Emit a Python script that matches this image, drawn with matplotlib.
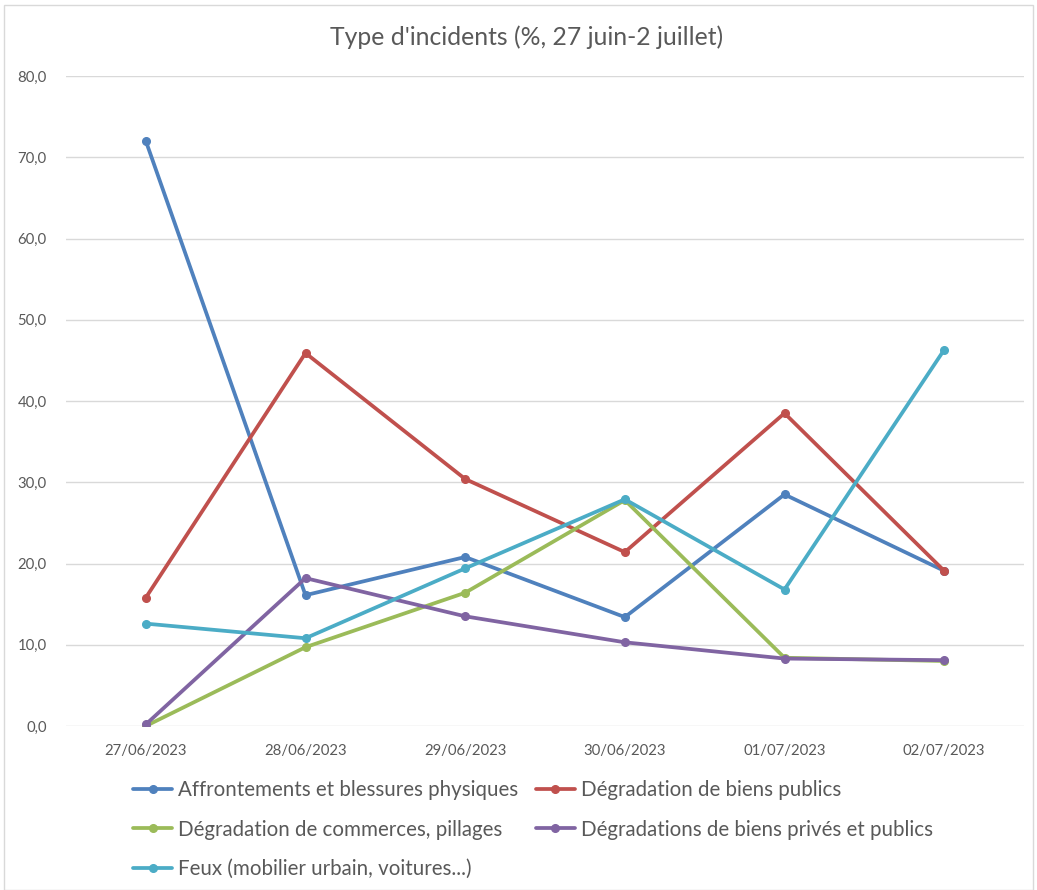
import matplotlib
matplotlib.use("Agg")
import matplotlib.pyplot as plt
from matplotlib.patches import Rectangle
from matplotlib.ticker import FuncFormatter, MultipleLocator

plt.rcParams['font.family'] = ['Lato', 'DejaVu Sans']

dates = ["27/06/2023", "28/06/2023", "29/06/2023", "30/06/2023", "01/07/2023", "02/07/2023"]

affrontements = [72.0, 16.1, 20.8, 13.4, 28.5, 19.1]
biens_publics = [15.8, 45.9, 30.4, 21.4, 38.5, 19.1]
commerces = [0.0, 9.7, 16.4, 27.8, 8.4, 8.0]
biens_prives_publics = [0.2, 18.2, 13.5, 10.3, 8.3, 8.1]
feux = [12.6, 10.8, 19.4, 27.9, 16.8, 46.3]

series = [
    ("Affrontements et blessures physiques", affrontements, "#4F81BD"),
    ("Dégradation de biens publics", biens_publics, "#C0504D"),
    ("Dégradation de commerces, pillages", commerces, "#9BBB59"),
    ("Dégradations de biens privés et publics", biens_prives_publics, "#8064A2"),
    ("Feux (mobilier urbain, voitures...)", feux, "#4BACC6"),
]

W, H = 1037, 890
fig = plt.figure(figsize=(W / 100, H / 100), dpi=100)
ax = fig.add_axes([66 / W, 1 - 726 / H, (1024 - 66) / W, (726 - 76) / H])

x = list(range(len(dates)))
handles = []
for label, vals, color in series:
    ln, = ax.plot(x, vals, color=color, lw=2.7, marker="o", markersize=5.5,
                  solid_capstyle="round", solid_joinstyle="round", label=label, zorder=3)
    handles.append(ln)

ax.set_xlim(-0.5, len(dates) - 0.5)
ax.set_ylim(0, 80)
ax.yaxis.set_major_locator(MultipleLocator(10))
ax.yaxis.set_major_formatter(FuncFormatter(lambda v, p: f"{v:.1f}".replace(".", ",")))
ax.set_xticks(x)
ax.set_xticklabels(dates)
ax.grid(axis="y", color="#d9d9d9", lw=1.0, zorder=0)
for s in ax.spines.values():
    s.set_visible(False)
ax.tick_params(axis="both", length=0, labelsize=10.7, colors="#595959")
ax.tick_params(axis="x", pad=13)
ax.tick_params(axis="y", pad=14)

fig.text(527 / W, 1 - 37 / H, "Type d'incidents (%, 27 juin-2 juillet)", ha="center", va="center",
         fontsize=17.8, color="#595959")

order = [0, 2, 4, 1, 3]
fig.legend([handles[i] for i in order], [series[i][0] for i in order], ncol=2,
           loc="upper left", bbox_to_anchor=(133 / W, 1 - 780 / H), frameon=False,
           fontsize=14.8, labelcolor="#595959", handlelength=1.9, handletextpad=0.3,
           columnspacing=0.85, labelspacing=0.95, borderaxespad=0, borderpad=0)

fig.patches.append(Rectangle((4 / W, 0), 1 - 8 / W, 1 - 5 / H, transform=fig.transFigure,
                             fill=False, edgecolor="#d9d9d9", lw=1))

fig.savefig("out.png", dpi=100)
